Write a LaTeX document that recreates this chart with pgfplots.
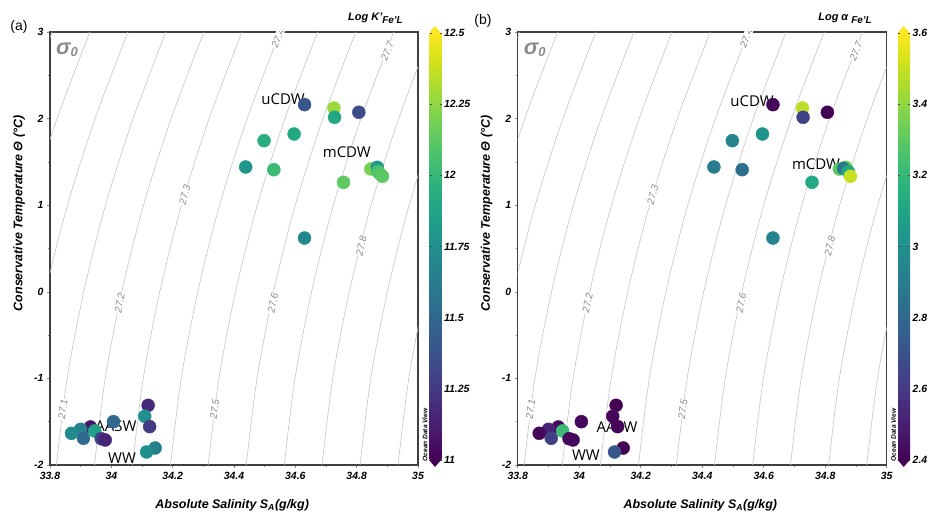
\documentclass[border=0pt]{standalone}
\usepackage{fontspec}
\setmainfont{Liberation Sans}
\newfontfamily\annotfont{Open Sans}
\usepackage{pgfplots}
\usepackage{pgfplotstable}
\pgfplotsset{compat=1.18}

\definecolor{isoline}{HTML}{C4C4C4}
\definecolor{isolabel}{HTML}{8A8A8A}
\definecolor{framec}{HTML}{404040}
\definecolor{vtop}{HTML}{FDE725}
\definecolor{vbot}{HTML}{440154}

\pgfplotstableread{
S T c
34.630 2.161 11.40
34.726 2.122 12.28
34.728 2.015 11.90
34.807 2.073 11.35
34.596 1.822 11.90
34.498 1.745 11.93
34.438 1.441 11.78
34.530 1.410 12.02
34.846 1.418 12.20
34.867 1.437 11.80
34.869 1.391 12.05
34.875 1.364 12.10
34.884 1.334 12.12
34.757 1.264 12.13
34.630 0.621 11.70
34.120 -1.311 11.18
34.109 -1.438 11.75
34.125 -1.557 11.25
34.143 -1.804 11.65
34.115 -1.850 11.75
34.007 -1.500 11.50
33.932 -1.561 11.10
33.946 -1.607 11.85
33.900 -1.588 11.65
33.870 -1.634 11.72
33.909 -1.692 11.52
33.967 -1.696 11.30
33.980 -1.711 11.15
}\dataA

\pgfplotstableread{
S T c
34.630 2.161 2.42
34.726 2.122 3.48
34.728 2.015 2.64
34.807 2.073 2.40
34.596 1.822 3.02
34.498 1.745 2.94
34.438 1.441 2.90
34.530 1.410 2.83
34.846 1.418 3.30
34.867 1.437 3.35
34.860 1.425 2.88
34.875 1.387 3.12
34.882 1.334 3.50
34.757 1.264 3.12
34.630 0.621 2.93
34.120 -1.311 2.40
34.109 -1.438 2.42
34.125 -1.557 2.42
34.143 -1.804 2.40
34.115 -1.850 2.72
34.007 -1.500 2.42
33.932 -1.561 2.43
33.946 -1.607 3.22
33.900 -1.588 2.52
33.870 -1.634 2.42
33.909 -1.692 2.62
33.967 -1.696 2.42
33.980 -1.711 2.42
}\dataB

\tikzset{
  iso/.style={isoline, line width=0.6bp, smooth},
  lbl/.style={fill=white, inner sep=0.6bp, text=isolabel, font=\fontsize{10}{10}\selectfont\itshape},
  ann/.style={font=\annotfont\fontsize{15}{15}\selectfont, text=black},
}

\newcommand{\isopycnals}{%
 \addplot[iso] coordinates {(33.450,-2) (33.485,-1) (33.539,0) (33.610,1) (33.700,2) (33.807,3)};
 \addplot[iso] coordinates {(33.573,-2) (33.608,-1) (33.662,0) (33.733,1) (33.823,2) (33.930,3)};
 \addplot[iso] coordinates {(33.697,-2) (33.732,-1) (33.786,0) (33.857,1) (33.947,2) (34.054,3)};
 \addplot[iso] coordinates {(33.821,-2) (33.856,-1) (33.910,0) (33.981,1) (34.071,2) (34.178,3)};
 \addplot[iso] coordinates {(33.945,-2) (33.980,-1) (34.034,0) (34.105,1) (34.195,2) (34.302,3)};
 \addplot[iso] coordinates {(34.069,-2) (34.104,-1) (34.158,0) (34.229,1) (34.319,2) (34.426,3)};
 \addplot[iso] coordinates {(34.193,-2) (34.228,-1) (34.282,0) (34.353,1) (34.443,2) (34.550,3)};
 \addplot[iso] coordinates {(34.316,-2) (34.351,-1) (34.405,0) (34.476,1) (34.566,2) (34.673,3)};
 \addplot[iso] coordinates {(34.440,-2) (34.475,-1) (34.529,0) (34.600,1) (34.690,2) (34.797,3)};
 \addplot[iso] coordinates {(34.564,-2) (34.599,-1) (34.653,0) (34.724,1) (34.814,2) (34.921,3)};
 \addplot[iso] coordinates {(34.687,-2) (34.722,-1) (34.776,0) (34.847,1) (34.937,2) (35.044,3)};
 \addplot[iso] coordinates {(34.811,-2) (34.846,-1) (34.900,0) (34.971,1) (35.061,2) (35.168,3)};
 \addplot[iso] coordinates {(34.935,-2) (34.970,-1) (35.024,0) (35.095,1) (35.185,2) (35.292,3)};
 \node[lbl, rotate=82] at (axis cs:33.842,-1.357) {27.1};
 \node[lbl, rotate=78] at (axis cs:34.027,-0.13) {27.2};
 \node[lbl, rotate=74] at (axis cs:34.239,1.12) {27.3};
 \node[lbl, rotate=68] at (axis cs:34.543,2.93) {27.4};
 \node[lbl, rotate=82] at (axis cs:34.337,-1.357) {27.5};
 \node[lbl, rotate=78] at (axis cs:34.527,-0.13) {27.6};
 \node[lbl, rotate=68] at (axis cs:34.900,2.78) {27.7};
 \node[lbl, rotate=76] at (axis cs:34.815,0.53) {27.8};
}

\pgfplotsset{
  panel/.style={
    scale only axis, height=433bp,
    xmin=33.8, xmax=35, ymin=-2, ymax=3,
    xtick={33.8,34,34.2,34.4,34.6,34.8,35},
    ytick={-2,-1,0,1,2,3},
    minor x tick num=1, minor y tick num=1,
    tick pos=left, tick align=outside,
    major tick length=3bp, minor tick length=2bp,
    tick style={draw=black!45, line width=0.5bp},
    axis line style={draw=framec, line width=1.1bp},
    tick label style={font=\fontsize{10.5}{10.5}\selectfont\bfseries\itshape},
    /pgf/number format/assume math mode=true,
    xticklabel style={yshift=-1bp},
    xlabel={Absolute Salinity S\textsubscript{A}(g/kg)},
    ylabel={Conservative Temperature Θ (°C)},
    label style={font=\fontsize{12.5}{12.5}\selectfont\bfseries\itshape},
    xlabel style={at={(axis description cs:0.495,0)}, anchor=center, yshift=-40bp},
    ylabel style={at={(axis description cs:-0.084,0.581)}, anchor=center},
    colormap/viridis,
    colorbar,
  },
  cbar/.style={
    at={(parent axis.north east)}, anchor=north west, xshift=3bp, yshift=-1bp,
    scale only axis, width=12bp, height=427bp,
    axis line style={draw=none},
    ytick style={draw=black!70, line width=0.5bp},
    major tick length=2bp,
    yticklabel style={font=\fontsize{10.5}{10.5}\selectfont\bfseries\itshape, xshift=-1bp},
    /pgf/number format/assume math mode=true,
  },
}

\begin{document}
\begin{tikzpicture}[x=1bp,y=1bp]
\path[use as bounding box] (0,0) rectangle (932,518);

% ---------- panel (a)
\begin{axis}[panel, at={(50bp,53bp)}, anchor=south west, width=368bp,
  point meta min=11, point meta max=12.5,
  colorbar style={cbar, ytick={11,11.25,11.5,11.75,12,12.25,12.5}},
]
\isopycnals
\addplot[scatter, only marks, mark=*, mark size=6.5bp,
  scatter/use mapped color={draw=mapped color, fill=mapped color},
  point meta=explicit] table[x=S, y=T, meta=c] {\dataA};
\node[ann] at (axis cs:34.560,2.226) {uCDW};
\node[ann] at (axis cs:34.768,1.609) {mCDW};
\node[ann] at (axis cs:34.015,-1.555) {AASW};
\node[ann] at (axis cs:34.035,-1.919) {WW};
\end{axis}

% ---------- panel (b)
\begin{axis}[panel, at={(517.7bp,53bp)}, anchor=south west, width=369bp,
  point meta min=2.4, point meta max=3.6,
  colorbar style={cbar, ytick={2.4,2.6,2.8,3,3.2,3.4,3.6}},
]
\isopycnals
\addplot[scatter, only marks, mark=*, mark size=6.5bp,
  scatter/use mapped color={draw=mapped color, fill=mapped color},
  point meta=explicit] table[x=S, y=T, meta=c] {\dataB};
\node[ann] at (axis cs:34.562,2.203) {uCDW};
\node[ann] at (axis cs:34.770,1.470) {mCDW};
\node[ann] at (axis cs:34.123,-1.561) {AASW};
\node[ann] at (axis cs:34.022,-1.885) {WW};
\end{axis}

% colorbar extension triangles
\fill[vtop] (429,485) -- (441,485) -- (435,492) -- cycle;
\fill[vbot] (429,58) -- (441,58) -- (435,51) -- cycle;
\fill[vtop] (897.7,485) -- (909.7,485) -- (903.7,492) -- cycle;
\fill[vbot] (897.7,58) -- (909.7,58) -- (903.7,51) -- cycle;

% panel letters
\node[font=\fontsize{14}{14}\selectfont] at (19,491.5) {(a)};
\node[font=\fontsize{14}{14}\selectfont] at (483,497.5) {(b)};

% sigma_0
\node[anchor=base west, inner sep=0, text=isolabel] at (56,463)
  {{\fontsize{22}{22}\selectfont\bfseries\itshape σ}\raisebox{-2bp}{\fontsize{13}{13}\selectfont\bfseries\itshape 0}};
\node[anchor=base west, inner sep=0, text=isolabel] at (523.7,463)
  {{\fontsize{22}{22}\selectfont\bfseries\itshape σ}\raisebox{-2bp}{\fontsize{13}{13}\selectfont\bfseries\itshape 0}};

% colorbar titles
\node[anchor=east, inner sep=0, font=\fontsize{11}{11}\selectfont\bfseries\itshape] at (403,500)
  {Log K'\raisebox{-3bp}{\fontsize{10}{10}\selectfont Fe'L}};
\node[anchor=east, inner sep=0, font=\fontsize{11}{11}\selectfont\bfseries\itshape] at (872,500)
  {Log α\ \raisebox{-3bp}{\fontsize{10}{10}\selectfont Fe'L}};

% Ocean Data View tags
\node[rotate=90, inner sep=0, font=\fontsize{6.6}{6.6}\selectfont\bfseries\itshape] at (425,83) {Ocean Data View};
\node[rotate=90, inner sep=0, font=\fontsize{6.6}{6.6}\selectfont\bfseries\itshape] at (893.5,83) {Ocean Data View};
\end{tikzpicture}
\end{document}
